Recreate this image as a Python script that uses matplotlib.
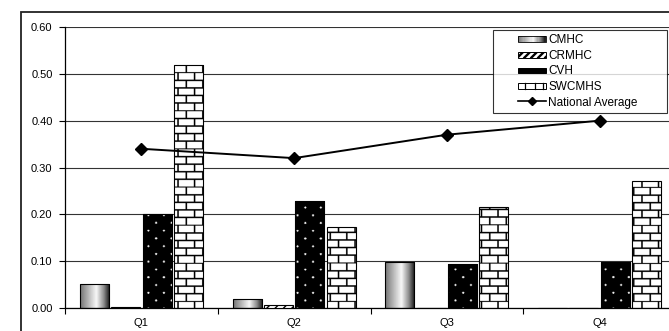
import numpy as np
import matplotlib
matplotlib.use("Agg")
import matplotlib.pyplot as plt
from matplotlib.patches import Rectangle
from matplotlib.lines import Line2D
from matplotlib.legend_handler import HandlerBase

plt.rcParams['font.family'] = ['Liberation Sans', 'DejaVu Sans']

quarters = ["Q1", "Q2", "Q3", "Q4"]
cmhc = [0.052, 0.019, 0.099, 0.0]
crmhc = [0.003, 0.007, 0.0, 0.0]
cvh = [0.201, 0.229, 0.095, 0.099]
swcmhs = [0.519, 0.173, 0.216, 0.271]
national_avg = [0.34, 0.32, 0.37, 0.40]
y_ticks = [0.0, 0.1, 0.2, 0.3, 0.4, 0.5, 0.6]

W, H = 669, 331
fig = plt.figure(figsize=(W / 100, H / 100), dpi=100)

# outer chart frame
fig.patches.append(Rectangle((21 / W, -0.1), 1.2, 1 - 12 / H + 0.1,
                             transform=fig.transFigure, fill=False,
                             edgecolor="#222222", linewidth=1.3))

ax_l, ax_r, ax_t, ax_b = 65, 676, 27, 308
ax = fig.add_axes([ax_l / W, 1 - ax_b / H, (ax_r - ax_l) / W, (ax_b - ax_t) / H])
ax.set_xlim(-0.5, 3.5)
ax.set_ylim(0, 0.6)

x = np.arange(len(quarters))
pitch = 0.205
bw = 0.19

# cylinder-style shading used for CMHC
t = np.linspace(0, 1, 64)
shade = np.interp(t, [0, 0.15, 0.55, 0.8, 1.0], [0.45, 0.6, 0.97, 0.55, 0.08])
shade_img = np.tile(shade, (2, 1))

# pixel grid over the axes (2 samples per pixel) for the fill textures
ppx = 2
aw, ah = (ax_r - ax_l) * ppx, (ax_b - ax_t) * ppx
yy, xx = np.mgrid[0:ah, 0:aw].astype(float) / ppx

# brick texture for SWCMHS
bh_px, bwid_px = 7.6, 16.0
row = np.floor(yy / bh_px)
brick = np.ones((ah, aw))
brick[(yy % bh_px) < 1.4] = 0.0
xo = xx + (row % 2) * bwid_px / 2
brick[(xo % bwid_px) < 1.4] = 0.0

# dotted texture for CVH: small white dots on black, staggered rows
dy, dx = 7.7, 15.0
drow = np.floor(yy / dy)
ry = (yy % dy) - dy / 2
rx = ((xx + (drow % 2) * dx / 2) % dx) - dx / 2
dots = np.where(rx ** 2 + ry ** 2 < 1.05 ** 2, 0.95, 0.0)

# CMHC
bars = ax.bar(x - 1.5 * pitch, cmhc, bw, facecolor="none", edgecolor="black", linewidth=0.8, zorder=3)
for b, v in zip(bars, cmhc):
    if v <= 0:
        continue
    im = ax.imshow(shade_img, cmap="gray", vmin=0, vmax=1, aspect="auto",
                   extent=(b.get_x(), b.get_x() + b.get_width(), 0, v), zorder=2)
    im.set_clip_path(b)

# CRMHC
ax.bar(x - 0.5 * pitch, crmhc, bw, facecolor="white", edgecolor="black",
       hatch="////", linewidth=0.8, zorder=3)

# CVH
bars = ax.bar(x + 0.5 * pitch, cvh, bw, facecolor="none", edgecolor="black", linewidth=0.8, zorder=3)
for b, v in zip(bars, cvh):
    im = ax.imshow(dots, cmap="gray", vmin=0, vmax=1, aspect="auto",
                   extent=(-0.5, 3.5, 0, 0.6), zorder=2, interpolation="antialiased")
    im.set_clip_path(b)

# SWCMHS
bars = ax.bar(x + 1.5 * pitch, swcmhs, bw, facecolor="none", edgecolor="black", linewidth=0.8, zorder=3)
for b, v in zip(bars, swcmhs):
    im = ax.imshow(brick, cmap="gray", vmin=0, vmax=1, aspect="auto",
                   extent=(-0.5, 3.5, 0, 0.6), zorder=2, interpolation="antialiased")
    im.set_clip_path(b)

# National average
ax.plot(x, national_avg, color="black", linewidth=1.4, marker="D", markersize=6, zorder=4)

ax.set_xlim(-0.5, 3.5)
ax.set_ylim(0, 0.6)
ax.set_yticks(y_ticks)
ax.set_yticklabels([f"{v:.2f}" for v in y_ticks])
ax.yaxis.grid(True, color="#333333", linewidth=0.8)
ax.set_axisbelow(True)
ax.set_xticks(x)
ax.set_xticklabels(quarters)
ax.set_xticks(np.arange(-0.5, 4.0, 1.0), minor=True)
ax.tick_params(axis="x", which="major", length=0, pad=7, labelsize=8)
ax.tick_params(axis="x", which="minor", length=4, width=0.8, direction="out")
ax.tick_params(axis="y", length=4, width=0.8, labelsize=8, pad=5)
for s in ("top", "right"):
    ax.spines[s].set_visible(False)
ax.spines["left"].set_linewidth(0.9)
ax.spines["bottom"].set_linewidth(0.9)

LEG_FS = 8.5
SW_PX = 28  # drawn swatch width in pixels


def swatch_box(hb):
    w = SW_PX * 72 / 100
    h = 4
    x0 = -hb.xdescent + hb.width - w
    y0 = (hb.height - h) / 2 - hb.ydescent
    return x0, y0, w, h


class ShadeHandler(HandlerBase):
    def legend_artist(self, legend, orig, fontsize, hb):
        x0, y0, w, h = swatch_box(hb)
        tr = hb.get_transform()
        n = 24
        for i in range(n):
            g = np.interp((i + 0.5) / n, t, shade)
            hb.add_artist(Rectangle((x0 + w * i / n, y0), w / n + 0.3, h,
                                    facecolor=(g, g, g), edgecolor="none", transform=tr))
        hb.add_artist(Rectangle((x0, y0), w, h, fill=False, edgecolor="black",
                                linewidth=0.6, transform=tr))


class BoxHandler(HandlerBase):
    def __init__(self, face, stripes=False, brick=False):
        super().__init__()
        self.face, self.stripes, self.brick = face, stripes, brick

    def legend_artist(self, legend, orig, fontsize, hb):
        x0, y0, w, h = swatch_box(hb)
        tr = hb.get_transform()
        frame = Rectangle((x0, y0), w, h, facecolor=self.face, edgecolor="black",
                          linewidth=0.7, transform=tr)
        hb.add_artist(frame)
        if self.stripes:
            for k in range(-1, 5):
                ln = Line2D([x0 + k * 5.0, x0 + k * 5.0 + 4], [y0, y0 + h], color="black",
                            linewidth=1.7, transform=tr)
                ln.set_clip_path(frame)
                hb.add_artist(ln)
        if self.brick:
            for fx in (0.28, 0.62, 0.9):
                hb.add_artist(Line2D([x0 + w * fx] * 2, [y0, y0 + h], color="black",
                                     linewidth=0.9, transform=tr))


class AvgHandler(HandlerBase):
    def legend_artist(self, legend, orig, fontsize, hb):
        x0, y0, w, h = swatch_box(hb)
        tr = hb.get_transform()
        yc = y0 + h / 2
        hb.add_artist(Line2D([x0, x0 + w], [yc, yc], color="black", linewidth=1.2, transform=tr))
        hb.add_artist(Line2D([x0 + w / 2], [yc], color="black", marker="D",
                             markersize=4.5, linestyle="none", transform=tr))


h_cmhc = Rectangle((0, 0), 1, 1)
h_crmhc = Rectangle((0, 0), 1, 1)
h_cvh = Rectangle((0, 0), 1, 1)
h_sw = Rectangle((0, 0), 1, 1)
h_avg = Line2D([], [])

leg = fig.legend([h_cmhc, h_crmhc, h_cvh, h_sw, h_avg],
                 ["CMHC", "CRMHC", "CVH", "SWCMHS", "National Average"],
                 handler_map={h_cmhc: ShadeHandler(),
                              h_crmhc: BoxHandler("white", stripes=True),
                              h_cvh: BoxHandler("black"),
                              h_sw: BoxHandler("white", brick=True),
                              h_avg: AvgHandler()},
                 loc="upper left", bbox_to_anchor=(493 / W, 1 - 30 / H, 174 / W, 0.001),
                 bbox_transform=fig.transFigure, mode="expand", borderaxespad=0,
                 fontsize=LEG_FS, handlelength=4.05, handletextpad=0.25, labelspacing=0.3,
                 borderpad=0.4, numpoints=1, frameon=True, fancybox=False)
leg.get_frame().set_edgecolor("black")
leg.get_frame().set_linewidth(0.8)

fig.savefig("out.png", dpi=100)
